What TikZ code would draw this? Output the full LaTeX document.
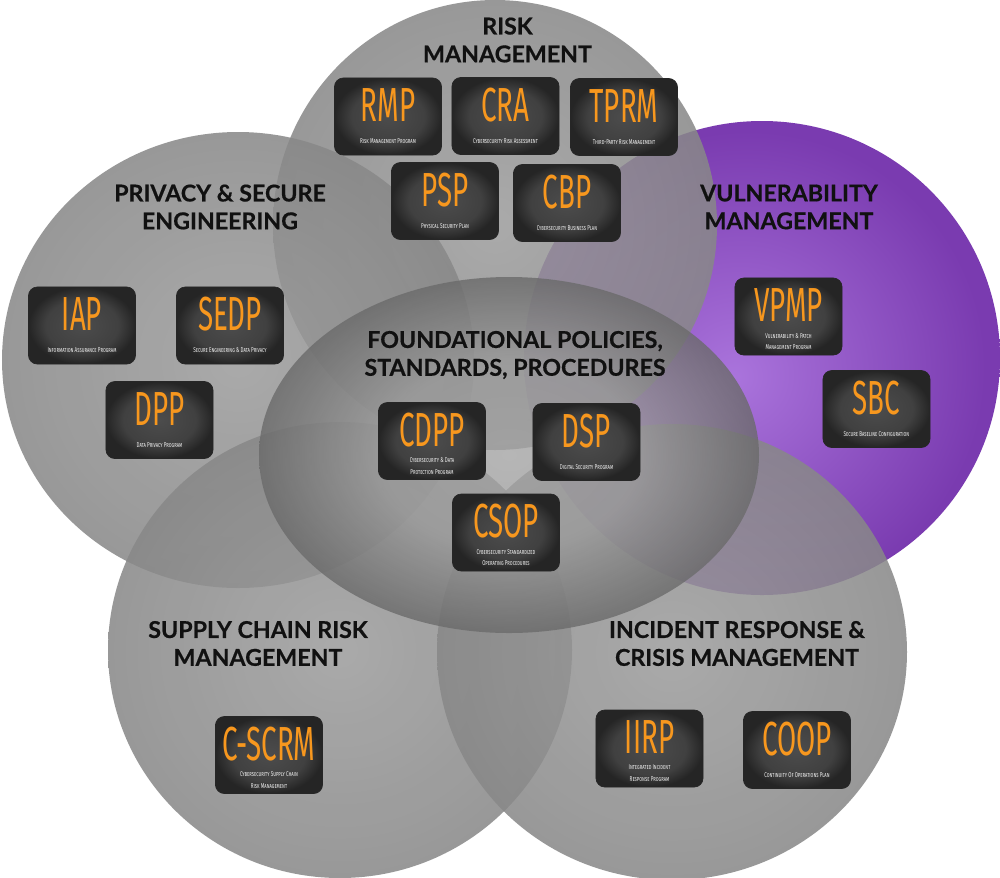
\documentclass[tikz,border=0pt]{standalone}
\usepackage{fontspec}
\usetikzlibrary{calc}
\newfontfamily\headfont[BoldFeatures={FakeBold=0.5}]{Lato}
\newfontfamily\acrfont[FakeStretch=0.58]{Fira Sans}
\newfontfamily\subfont[Letters=SmallCaps,FakeStretch=0.65]{Fira Sans}

\definecolor{acrorange}{HTML}{F7971E}
\definecolor{boxin}{HTML}{4C4C4C}
\definecolor{boxout}{HTML}{252525}
\definecolor{gin}{HTML}{9C9C9C}
\definecolor{gout}{HTML}{888888}
\definecolor{ein}{HTML}{A4A4A4}
\definecolor{eout}{HTML}{6A6A6A}
\definecolor{pin}{HTML}{AA74DC}
\definecolor{pout}{HTML}{7A3BB0}
\definecolor{headtxt}{HTML}{111111}
\definecolor{subtxt}{HTML}{EEEEEE}

\pgfdeclareradialshading{discshade}{\pgfpoint{0bp}{0bp}}{color(0bp)=(gin); color(25bp)=(gout); color(50bp)=(gout)}
\pgfdeclareradialshading{hubshade}{\pgfpoint{0bp}{0bp}}{color(0bp)=(ein); color(13bp)=(ein!85!eout); color(25bp)=(eout); color(50bp)=(eout)}
\pgfdeclareradialshading{vulnshade}{\pgfpoint{-3bp}{-2bp}}{color(0bp)=(pin); color(25bp)=(pout); color(50bp)=(pout)}
\pgfdeclareradialshading{boxshade}{\pgfpoint{0bp}{0bp}}{color(0bp)=(boxin); color(17bp)=(boxin!70!boxout); color(25bp)=(boxout); color(50bp)=(boxout)}

\tikzset{
  zone/.style={shade, shading=discshade, opacity=0.86},
  hub/.style={shade, shading=hubshade, opacity=0.8},
  vzone/.style={shade, shading=vulnshade},
  pbox/.style={rectangle, shade, shading=boxshade, draw=black!85, line width=0.5pt,
    rounded corners=0.22cm, minimum width=2.675cm, minimum height=1.925cm, inner sep=0pt},
  acr/.style={text=acrorange, font=\acrfont\fontsize{34}{36}\selectfont, inner sep=0pt},
  subt/.style={text=subtxt, align=center, font=\subfont\fontsize{5}{8.4}\selectfont, inner sep=0pt},
  head/.style={text=headtxt, align=center, font=\headfont\bfseries\fontsize{16.5}{19.8}\selectfont, inner sep=0pt}
}

\newcommand\progbox[5]{%
  \node[pbox] (#1) at (#2,#3) {};
  \node[acr, anchor=base] (#1-acr) at ($(#1.center)+(0,5)$) {#4};
  \node[subt] (#1-sub) at ($(#1.center)+(0,25)$) {#5};
}

\begin{document}
\begin{tikzpicture}[x=0.025cm, y=-0.025cm]
\useasboundingbox (0,0) rectangle (1000,877);
\fill[white] (0,0) rectangle (1000,877);

% zones
\shade[vzone] (762,358) ellipse [x radius=238, y radius=237];
\shade[zone] (495,225) ellipse [x radius=222, y radius=225];
\shade[zone] (238,360) ellipse [x radius=236, y radius=228];
\shade[zone] (340,650) ellipse [x radius=232, y radius=228];
\shade[zone] (672,652) ellipse [x radius=235, y radius=228];
\shade[hub] (509,455) ellipse [x radius=250, y radius=178];

% headings
\node[head] (hrisk) at (507.5,40) {RISK\\MANAGEMENT};
\node[head] (hpriv) at (220,207) {PRIVACY \& SECURE\\ENGINEERING};
\node[head] (hvuln) at (789,207) {VULNERABILITY\\MANAGEMENT};
\node[head] (hfound) at (515,355) {FOUNDATIONAL POLICIES,\\STANDARDS, PROCEDURES};
\node[head] (hsupply) at (258,643.5) {SUPPLY CHAIN RISK\\MANAGEMENT};
\node[head] (hinc) at (737,643.5) {INCIDENT RESPONSE \&\\CRISIS MANAGEMENT};

% programs
\progbox{rmp}{388}{116.5}{RMP}{Risk Management Program}
\progbox{cra}{505.5}{116}{CRA}{Cybersecurity Risk Assessment}
\progbox{tprm}{624}{117}{TPRM}{Third-Party Risk Management}
\progbox{psp}{445}{201}{PSP}{Physical Security Plan}
\progbox{cbp}{567}{203}{CBP}{Cybersecurity Business Plan}
\progbox{iap}{82}{325.5}{IAP}{Information Assurance Program}
\progbox{sedp}{230}{325.5}{SEDP}{Secure Engineering \& Data Privacy}
\progbox{dpp}{159.5}{420}{DPP}{Data Privacy Program}
\progbox{cdpp}{432}{441}{CDPP}{Cybersecurity \& Data\\Protection Program}
\progbox{dsp}{586.5}{442}{DSP}{Digital Security Program}
\progbox{csop}{506}{532.5}{CSOP}{Cybersecurity Standardized\\Operating Procedures}
\progbox{vpmp}{788.5}{316.5}{VPMP}{Vulnerability \& Patch\\Management Program}
\progbox{sbc}{876.5}{409}{SBC}{Secure Baseline Configuration}
\progbox{cscrm}{269}{755}{C-SCRM}{Cybersecurity Supply Chain\\Risk Management}
\progbox{iirp}{649.5}{748.5}{IIRP}{Integrated Incident\\Response Program}
\progbox{coop}{797}{750}{COOP}{Continuity Of Operations Plan}
\end{tikzpicture}
\end{document}
